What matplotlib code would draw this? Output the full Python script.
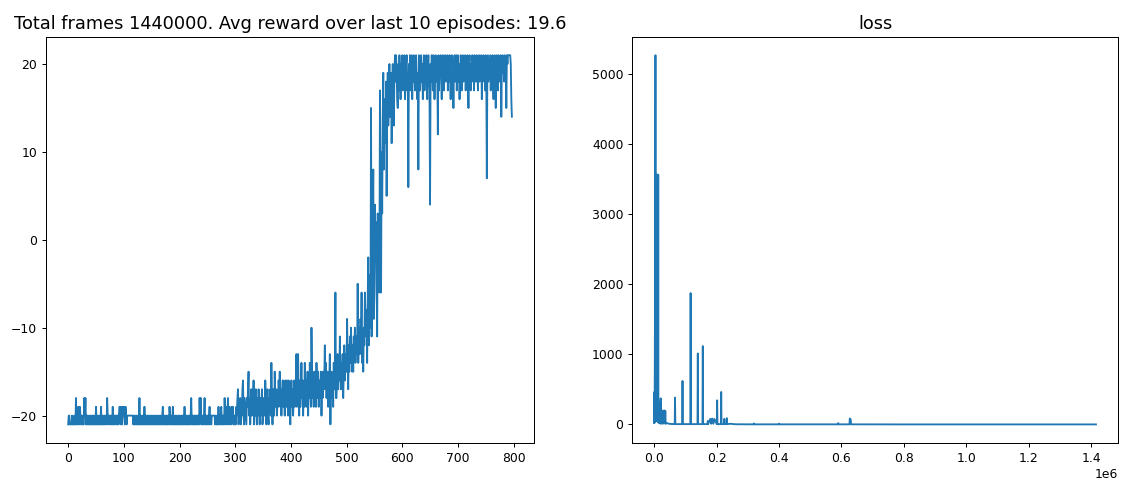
import numpy as np
import matplotlib
matplotlib.use("Agg")
import matplotlib.pyplot as plt

# episode rewards (20 per row)
rewards = [
    -21, -20, -20, -21, -21, -21, -21, -20, -21, -21, -21, -20, -21, -21, -18, -21, -20, -21, -19, -20,
    -21, -19, -20, -21, -20, -21, -20, -21, -21, -18, -20, -18, -21, -20, -21, -20, -21, -21, -20, -21,
    -20, -21, -21, -20, -21, -20, -21, -21, -20, -21, -19, -21, -20, -21, -21, -20, -21, -20, -21, -19,
    -21, -20, -21, -21, -20, -21, -20, -21, -20, -21, -18, -20, -21, -20, -20, -21, -20, -21, -20, -21,
    -19, -21, -20, -21, -20, -20, -21, -20, -21, -20, -21, -20, -19, -20, -21, -19, -20, -21, -19, -20,
    -19, -20, -21, -19, -20, -21, -20, -20, -20, -20, -20, -20, -20, -20, -20, -20, -20, -21, -20, -21,
    -21, -20, -21, -20, -21, -21, -20, -21, -18, -21, -20, -21, -21, -20, -21, -20, -21, -19, -21, -20,
    -21, -21, -20, -21, -20, -21, -21, -20, -21, -20, -21, -21, -20, -21, -20, -21, -21, -20, -21, -20,
    -21, -20, -21, -21, -20, -21, -20, -21, -21, -20, -19, -21, -20, -21, -21, -20, -21, -20, -21, -21,
    -20, -21, -19, -20, -21, -21, -20, -21, -19, -21, -20, -21, -21, -20, -21, -20, -21, -21, -20, -21,
    -20, -21, -21, -20, -21, -20, -21, -20, -21, -19, -21, -20, -21, -20, -21, -21, -20, -21, -20, -21,
    -20, -18, -21, -20, -21, -21, -20, -21, -20, -21, -20, -21, -20, -21, -20, -21, -18, -20, -18, -21,
    -20, -21, -20, -21, -20, -18, -21, -20, -21, -20, -21, -20, -21, -20, -19, -21, -20, -21, -20, -20,
    -20, -20, -20, -20, -21, -20, -21, -21, -20, -21, -19, -21, -20, -21, -20, -19, -21, -20, -21, -20,
    -21, -18, -20, -21, -19, -21, -20, -18, -21, -20, -19, -21, -20, -21, -19, -20, -19, -21, -20, -21,
    -20, -21, -19, -20, -18, -17, -21, -19, -20, -18, -21, -19, -20, -17, -16, -20, -21, -18, -19, -20,
    -21, -18, -19, -17, -15, -20, -18, -21, -19, -17, -20, -18, -19, -16, -21, -18, -20, -17, -19, -21,
    -18, -20, -17, -19, -21, -18, -20, -19, -17, -21, -20, -18, -19, -20, -16, -18, -21, -19, -17, -20,
    -21, -18, -19, -17, -20, -14, -18, -21, -17, -19, -20, -15, -18, -19, -17, -20, -18, -19, -16, -18,
    -15, -19, -17, -20, -18, -16, -16, -19, -17, -20, -16, -18, -19, -16, -17, -20, -16, -18, -19, -21,
    -18, -16, -19, -17, -20, -18, -16, -19, -17, -18, -13, -19, -17, -13, -18, -20, -16, -19, -17, -14,
    -18, -16, -20, -17, -19, -14, -18, -16, -19, -17, -15, -20, -16, -18, -14, -17, -19, -10, -15, -18,
    -17, -19, -15, -18, -16, -19, -14, -17, -18, -15, -19, -16, -18, -17, -15, -20, -16, -18, -15, -17,
    -16, -12, -17, -14, -18, -16, -15, -19, -17, -16, -13, -21, -17, -15, -18, -16, -19, -14, -17, -15,
    -6, -18, -18, -15, -13, -17, -14, -16, -11, -15, -17, -14, -16, -13, -18, -15, -12, -16, -14, -13,
    -15, -9, -14, -17, -12, -15, -11, -14, -10, -13, -15, -12, -15, -11, -13, -10, -14, -12, -11, -13,
    -5, -14, -12, -10, -13, -9, -11, -6, -14, -12, -15, -10, -12, -6, -9, -11, -8, -14, -7, -2,
    -12, -4, -8, -10, 15, -11, -3, 1, 8, -9, -6, 4, -1, 2, -5, -11, 3, -2, 1, -6,
    17, 5, -6, 10, 3, 14, 19, 8, 12, 16, 11, 18, 5, 15, 19, 13, 17, 20, 14, 18,
    19, 11, 17, 20, 15, 13, 19, 21, 18, 21, 19, 16, 15, 20, 17, 21, 19, 16, 20, 18,
    21, 17, 20, 19, 21, 16, 18, 20, 21, 17, 19, 6, 20, 18, 21, 17, 19, 21, 16, 20,
    18, 21, 19, 17, 20, 21, 18, 16, 19, 8, 21, 20, 17, 19, 21, 18, 20, 16, 19, 21,
    17, 20, 19, 21, 18, 16, 20, 21, 19, 17, 4, 20, 18, 21, 19, 17, 21, 20, 16, 19,
    21, 18, 20, 19, 12, 21, 17, 20, 19, 21, 18, 16, 20, 21, 19, 17, 20, 21, 18, 20,
    19, 21, 17, 20, 18, 21, 19, 16, 20, 21, 17, 19, 15, 20, 21, 18, 19, 21, 17, 20,
    21, 18, 20, 16, 19, 21, 20, 17, 19, 21, 18, 20, 19, 21, 17, 20, 19, 21, 18, 15,
    20, 21, 19, 17, 20, 18, 21, 19, 20, 17, 21, 19, 18, 20, 21, 19, 17, 20, 21, 18,
    20, 19, 21, 16, 20, 18, 21, 19, 20, 17, 21, 19, 7, 20, 21, 18, 19, 20, 21, 17,
    20, 19, 21, 18, 16, 20, 21, 19, 15, 20, 21, 19, 17, 21, 20, 18, 19, 21, 14, 20,
    21, 19, 20, 18, 21, 19, 20, 15,
    21, 20, 21, 21, 21, 21, 21, 20, 16, 14,
]

# loss samples (frame index, loss)
loss_frames = [
    0, 1000, 1500, 2500, 3200, 4300, 5000, 5800, 6500, 7300, 8000, 8800, 9500,
    10300, 11000, 11800, 12500, 13200, 13800, 15000, 16000, 18000, 19000, 21000,
    22000, 24000, 25000, 27000, 28000, 30000, 31000, 33000, 34000, 36000, 37000,
    40000, 50000, 66000, 67000, 68000, 90000, 91000, 92000, 116000, 117000,
    118000, 139000, 140000, 141000, 155000, 156000, 157000, 171000, 172000,
    173000, 180000, 183000, 186000, 190000, 193000, 201000, 202000, 203000,
    214000, 215000, 216000, 224000, 225000, 226000, 232000, 233000, 234000,
    245000, 260000, 319000, 320000, 321000, 399000, 400000, 401000, 589000,
    590000, 591000, 626000, 627000, 630000, 631000, 800000, 1416000,
]
loss_values = [
    20, 463, 30, 1275, 40, 5262, 60, 3000, 100, 3400, 50, 3560, 80,
    3560, 40, 3540, 100, 3560, 30, 250, 20, 300, 15, 372,
    10, 150, 20, 200, 10, 190, 20, 200, 15, 190, 10,
    20, 8, 5, 382, 5, 5, 620, 5, 5, 1872,
    5, 5, 1012, 5, 5, 1117, 5, 5, 50,
    5, 80, 10, 85, 10, 80, 5, 344, 5,
    5, 463, 5, 5, 80, 5, 5, 90, 5,
    10, 3, 2, 15, 2, 2, 12, 2, 2,
    20, 2, 2, 85, 70, 2, 1, 1,
]

frame_idx = 1440000
last_avg = np.mean(rewards[-10:])

fig = plt.figure(figsize=(1122 / 89, 484 / 89), dpi=89)

ax1 = fig.add_axes([0.041, 0.085, 0.435, 0.839])
ax1.set_title('Total frames %s. Avg reward over last 10 episodes: %s' % (frame_idx, round(last_avg, 1)),
              fontsize=14.4)
ax1.plot(rewards)

ax2 = fig.add_axes([0.5633, 0.085, 0.4332, 0.839])
ax2.set_title('loss', fontsize=14.4)
ax2.plot(loss_frames, loss_values)

fig.savefig('out.png', dpi=89)
